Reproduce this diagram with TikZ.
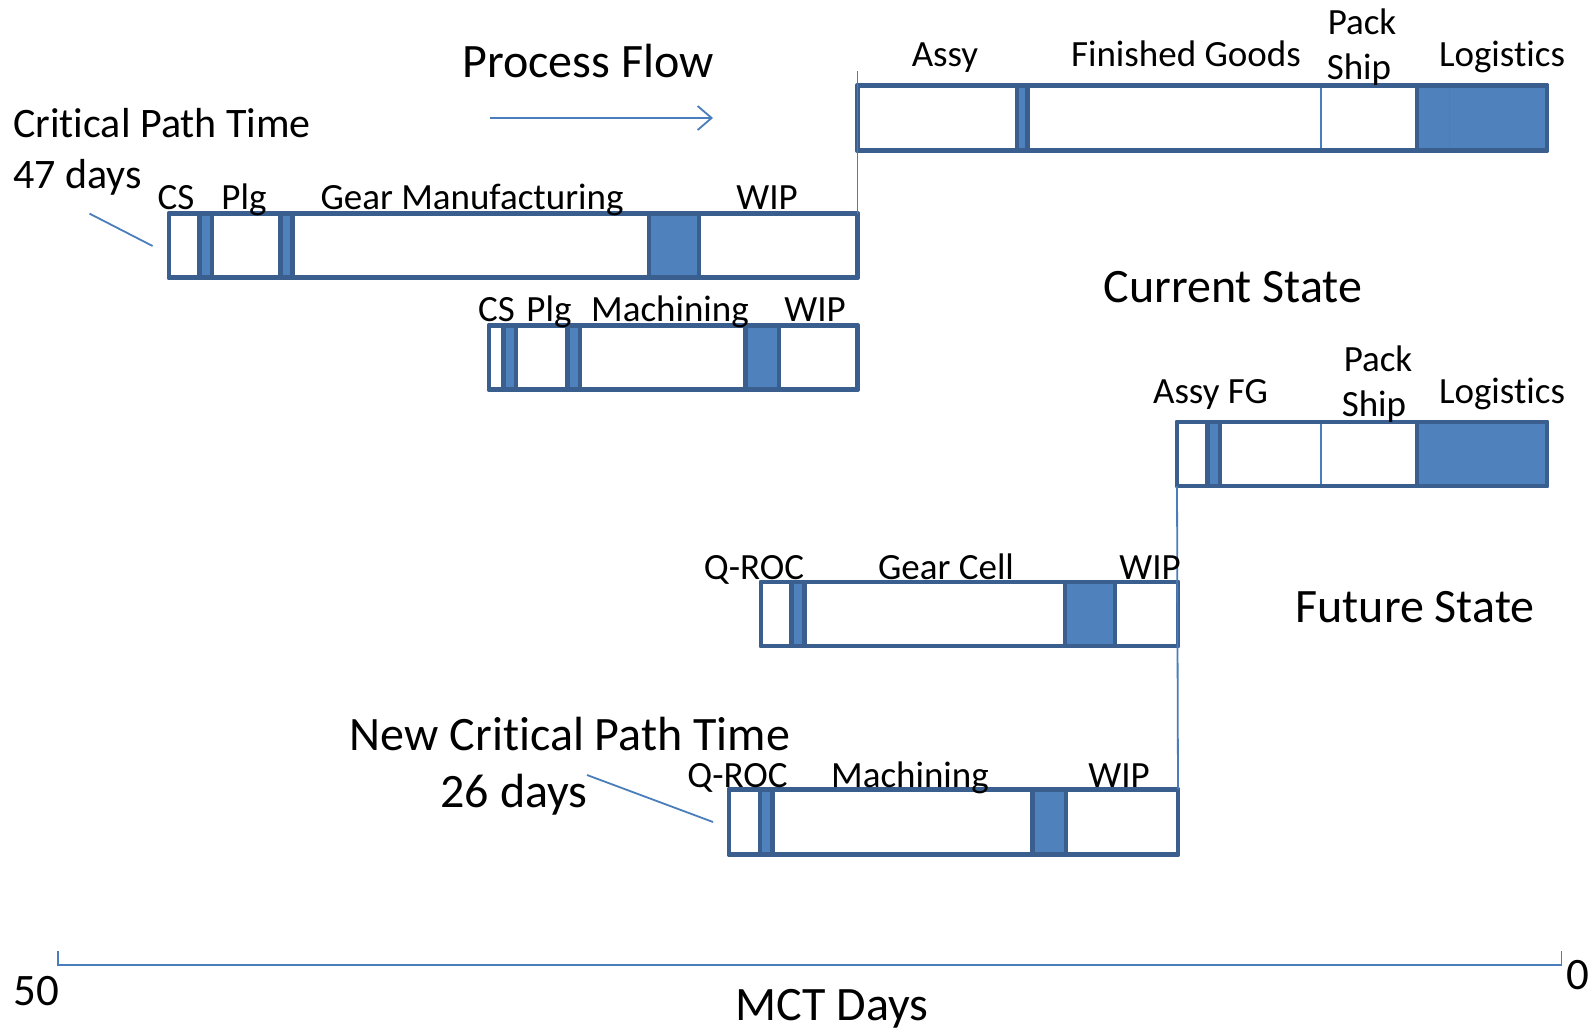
\documentclass[tikz,border=0pt]{standalone}
\usepackage{fontspec}
\setmainfont{Carlito}[Ligatures=NoCommon]
\usetikzlibrary{arrows.meta}
\definecolor{barline}{HTML}{3A5F8F}
\definecolor{barfill}{HTML}{4F81BD}
\definecolor{thinline}{HTML}{4A7EBB}
\tikzset{
  seg/.style={draw=barline, line width=4.5pt, line join=round},
  openseg/.style={seg, fill=white},
  waitseg/.style={seg, fill=barfill},
  frame/.style={draw=barline, line width=4.5pt, line join=round, inner sep=0pt,
    outer sep=0pt, anchor=north west, rectangle},
  link/.style={draw=thinline, line width=1.8pt},
  divider/.style={draw=thinline, line width=1.5pt},
  lbl/.style={anchor=base, inner sep=0pt, font=\fontsize{37}{40}\selectfont},
  midtxt/.style={anchor=base, inner sep=0pt, font=\fontsize{42}{46}\selectfont},
  bigtxt/.style={anchor=base, inner sep=0pt, font=\fontsize{48}{52}\selectfont},
}
\begin{document}
\begin{tikzpicture}[x=1pt, y=-1pt]
\useasboundingbox[fill=white] (0,0) rectangle (1595,1031);

% ---------- Current state: gear manufacturing ----------
\path[openseg] (169,213.6) rectangle (199.4,277.7);
\path[waitseg] (199.4,213.6) rectangle (212,277.7);
\path[openseg] (212,213.6) rectangle (280.7,277.7);
\path[waitseg] (280.7,213.6) rectangle (292.5,277.7);
\path[openseg] (292.5,213.6) rectangle (649,277.7);
\path[waitseg] (649,213.6) rectangle (699,277.7);
\path[openseg] (699,213.6) rectangle (857.5,277.7);
\node[frame, minimum width=688.5pt, minimum height=64.1pt] (gear) at (169,213.6) {};

% ---------- Current state: machining ----------
\path[openseg] (489,325.5) rectangle (503.5,389.6);
\path[waitseg] (503.5,325.5) rectangle (516,389.6);
\path[openseg] (516,325.5) rectangle (567.6,389.6);
\path[waitseg] (567.6,325.5) rectangle (580,389.6);
\path[openseg] (580,325.5) rectangle (745.6,389.6);
\path[waitseg] (745.6,325.5) rectangle (779.2,389.6);
\path[openseg] (779.2,325.5) rectangle (857.5,389.6);
\node[frame, minimum width=368.5pt, minimum height=64.1pt] (mach) at (489,325.5) {};

% ---------- Current state: assembly to logistics ----------
\path[openseg] (857.5,85.5) rectangle (1017,150.5);
\path[waitseg] (1017,85.5) rectangle (1027.5,150.5);
\path[openseg] (1027.5,85.5) rectangle (1417,150.5);
\path[waitseg] (1417,85.5) rectangle (1547,150.5);
\draw[divider] (1321,85.5) -- (1321,150.5);
\draw[divider] (1449.5,85.5) -- (1449.5,150.5);
\node[frame, minimum width=689.5pt, minimum height=65pt] (assy) at (857.5,85.5) {};

% ---------- Future state: assembly to logistics ----------
\path[openseg] (1177,422) rectangle (1207.4,486);
\path[waitseg] (1207.4,422) rectangle (1220,486);
\path[openseg] (1220,422) rectangle (1417,486);
\path[waitseg] (1417,422) rectangle (1547,486);
\draw[divider] (1321,422) -- (1321,486);
\node[frame, minimum width=370pt, minimum height=64pt] (assyfg) at (1177,422) {};

% ---------- Future state: gear cell ----------
\path[openseg] (761,582) rectangle (791.4,646);
\path[waitseg] (791.4,582) rectangle (804.6,646);
\path[openseg] (804.6,582) rectangle (1065,646);
\path[waitseg] (1065,582) rectangle (1115,646);
\path[openseg] (1115,582) rectangle (1178,646);
\node[frame, minimum width=417pt, minimum height=64pt] (gcell) at (761,582) {};

% ---------- Future state: machining ----------
\path[openseg] (729,789.3) rectangle (760,854.4);
\path[waitseg] (760,789.3) rectangle (772.5,854.4);
\path[openseg] (772.5,789.3) rectangle (1032.5,854.4);
\path[waitseg] (1032.5,789.3) rectangle (1066,854.4);
\path[openseg] (1066,789.3) rectangle (1178,854.4);
\node[frame, minimum width=449pt, minimum height=65.1pt] (fmach) at (729,789.3) {};

% ---------- connectors ----------
\coordinate (cstop) at (857.5,71);
\draw[link] (gear.north east) -- (cstop);
\draw[link] (fmach.north east) -- (assyfg.south west);

\coordinate (pfa) at (490,118);
\coordinate (pfb) at (713,118);
\draw[link, -{Straight Barb[length=14pt, width=24pt, line width=1.8pt]}] (pfa) -- (pfb);

\coordinate (cpa) at (89.5,213.6);
\coordinate (cpb) at (152.6,246);
\draw[link] (cpa) -- (cpb);
\coordinate (ncpa) at (587,775);
\coordinate (ncpb) at (713,822);
\draw[link] (ncpa) -- (ncpb);

% ---------- day axis ----------
\coordinate (axl) at (58,951);
\coordinate (axr) at (1561.5,951);
\draw[link] (axl) -- ++(0,14) -| (axr);

% ---------- labels ----------
\node[bigtxt] (tpf) at (588,77) {Process Flow};
\node[midtxt, anchor=base west] (tcp) at (13,137) {Critical Path Time};
\node[midtxt, anchor=base west] (tcpd) at (13,188) {47 days};
\node[bigtxt] (tcs) at (1233,302) {Current State};
\node[bigtxt] (tfs) at (1415,622) {Future State};
\node[bigtxt] (tncp) at (570,750) {New Critical Path Time};
\node[bigtxt] (tncpd) at (514,807) {26 days};

\node[lbl] (l1a) at (176,209.5) {CS};
\node[lbl] (l1b) at (244,209.5) {Plg};
\node[lbl] (l1c) at (472,209.5) {Gear Manufacturing};
\node[lbl] (l1d) at (767,209.5) {WIP};

\node[lbl] (l2a) at (496.4,321.5) {CS};
\node[lbl] (l2b) at (549,321.5) {Plg};
\node[lbl] (l2c) at (670,321.5) {Machining};
\node[lbl] (l2d) at (815,321.5) {WIP};

\node[lbl] (l3a) at (945,66) {Assy};
\node[lbl] (l3b) at (1186,66) {Finished Goods};
\node[lbl] (l3c) at (1362,34.6) {Pack};
\node[lbl] (l3d) at (1359,79.3) {Ship};
\node[lbl] (l3e) at (1502,66) {Logistics};

\node[lbl] (l4a) at (1210.5,403) {Assy FG};
\node[lbl] (l4b) at (1378,371) {Pack};
\node[lbl] (l4c) at (1374,416) {Ship};
\node[lbl] (l4d) at (1502,403) {Logistics};

\node[lbl] (l5a) at (754,579) {Q-ROC};
\node[lbl] (l5b) at (946,579) {Gear Cell};
\node[lbl] (l5c) at (1150,579) {WIP};

\node[lbl] (l6a) at (737.5,787) {Q-ROC};
\node[lbl] (l6b) at (910,787) {Machining};
\node[lbl] (l6c) at (1119,787) {WIP};

\node[bigtxt, font=\fontsize{45}{48}\selectfont] (a50) at (36.6,1005) {50};
\node[bigtxt, font=\fontsize{45}{48}\selectfont] (a0) at (1578,989) {0};
\node[bigtxt] (amct) at (832,1020) {MCT Days};
\end{tikzpicture}
\end{document}
